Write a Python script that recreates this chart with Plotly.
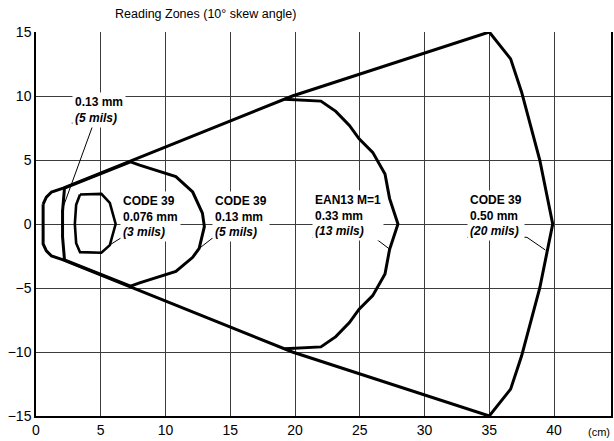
import plotly.graph_objects as go

# Reading-zone outlines: distance from scanner (cm) vs lateral offset (cm)
zone20_x = [0.55, 0.8, 1.2, 2.1, 19.8, 35.0, 36.65, 37.5, 38.9, 39.9,
            38.9, 37.5, 36.65, 35.0, 19.8, 2.1, 1.2, 0.8, 0.55, 0.55]
zone20_y = [1.55, 2.1, 2.5, 2.8, 10.0, 15.0, 12.9, 10.3, 5.0, 0.0,
            -5.0, -10.3, -12.9, -15.0, -10.0, -2.8, -2.5, -2.1, -1.55, 1.55]

zone13_x = [19.2, 22.0, 23.15, 24.2, 24.95, 26.0, 26.95, 27.3, 27.95,
            27.3, 26.95, 26.0, 24.95, 24.2, 23.15, 22.0, 19.2]
zone13_y = [9.75, 9.6, 8.8, 7.7, 6.65, 5.6, 3.9, 2.0, 0.0,
            -2.0, -3.9, -5.6, -6.65, -7.7, -8.8, -9.6, -9.75]

zone5_x = [2.2, 7.3, 8.0, 10.8, 12.1, 12.85, 13.0, 12.6, 12.1, 10.8, 8.0, 7.3,
           2.2, 2.05, 2.05, 2.2]
zone5_y = [2.8, 4.85, 4.6, 3.7, 2.5, 0.85, -0.2, -1.9, -2.6, -3.7, -4.6, -4.85,
           -2.8, -1.0, 1.0, 2.8]

zone3_x = [3.4, 5.05, 5.7, 6.15, 5.7, 5.05, 3.4, 3.1, 3.0, 3.1, 3.4]
zone3_y = [2.3, 2.35, 1.65, 0.0, -1.65, -2.25, -2.2, -1.5, 0.0, 1.5, 2.3]

# Zone captions: text lines and anchor (left edge, vertical centre)
label_text = [
    "<b>0.13 mm</b><br><b><i>(5 mils)</i></b>",
    "<b>CODE 39</b><br><b>0.076 mm</b><br><b><i>(3 mils)</i></b>",
    "<b>CODE 39</b><br><b>0.13 mm</b><br><b><i>(5 mils)</i></b>",
    "<b>EAN13 M=1</b><br><b>0.33 mm</b><br><b><i>(13 mils)</i></b>",
    "<b>CODE 39</b><br><b>0.50 mm</b><br><b><i>(20 mils)</i></b>",
]
label_x = [2.76, 6.5, 13.6, 21.35, 33.3]
label_y = [8.9, 0.62, 0.62, 0.7, 0.7]

# Underline + leader polylines joining each caption to its outline
leader_x = [[6.3, 2.76, None, 4.45, 1.96],
            [9.92, 6.51, 5.69],
            [16.99, 13.6, 12.62],
            [21.35, 26.1, 27.39],
            [33.29, 37.91, 39.33]]
leader_y = [[7.88, 7.88, None, 7.88, 0.94],
            [-1.12, -1.12, -1.64],
            [-1.12, -1.12, -1.9],
            [-1.04, -1.04, -2.03],
            [-1.04, -1.04, -2.03]]

x_ticks = [0, 5, 10, 15, 20, 25, 30, 35, 40]
y_ticks = [-15, -10, -5, 0, 5, 10, 15]

FONT = "Liberation Sans, Arial, sans-serif"

fig = go.Figure()

for lx, ly in zip(leader_x, leader_y):
    fig.add_trace(go.Scatter(x=lx, y=ly, mode="lines",
                             line=dict(color="black", width=1),
                             hoverinfo="skip"))

for zx, zy, w in [(zone20_x, zone20_y, 3), (zone13_x, zone13_y, 3),
                  (zone5_x, zone5_y, 3), (zone3_x, zone3_y, 2.6)]:
    fig.add_trace(go.Scatter(x=zx, y=zy, mode="lines",
                             line=dict(color="black", width=w),
                             hoverinfo="skip"))

for t, x, y in zip(label_text, label_x, label_y):
    fig.add_annotation(x=x, y=y, xref="x", yref="y", text=t, showarrow=False,
                       xanchor="left", yanchor="middle", align="left",
                       bgcolor="white", borderpad=2,
                       font=dict(family=FONT, size=12, color="black"))

fig.add_annotation(x=0.296, y=1.047, xref="paper", yref="paper",
                   text="Reading Zones (10° skew angle)", showarrow=False,
                   xanchor="center", yanchor="middle",
                   font=dict(family=FONT, size=12.5, color="black"))
fig.add_annotation(x=0.979, y=-0.042, xref="paper", yref="paper",
                   text="(cm)", showarrow=False,
                   xanchor="center", yanchor="middle",
                   font=dict(family=FONT, size=11, color="black"))

fig.update_layout(
    width=614, height=441,
    margin=dict(l=36, r=1, t=32, b=25),
    plot_bgcolor="white", paper_bgcolor="white",
    showlegend=False,
    xaxis=dict(range=[0, 44.4], tickvals=x_ticks, ticks="",
               showgrid=True, gridcolor="#3c3c3c", gridwidth=1,
               zeroline=False, showline=True, linecolor="black", linewidth=2,
               tickfont=dict(family=FONT, size=14, color="black")),
    yaxis=dict(range=[-15, 15], tickvals=y_ticks, ticks="",
               showgrid=True, gridcolor="#3c3c3c", gridwidth=1,
               zeroline=True, zerolinecolor="#3c3c3c", zerolinewidth=1,
               showline=True, linecolor="black", linewidth=1.5, mirror=True,
               tickfont=dict(family=FONT, size=14, color="black")),
)

fig.write_html("out.html")
